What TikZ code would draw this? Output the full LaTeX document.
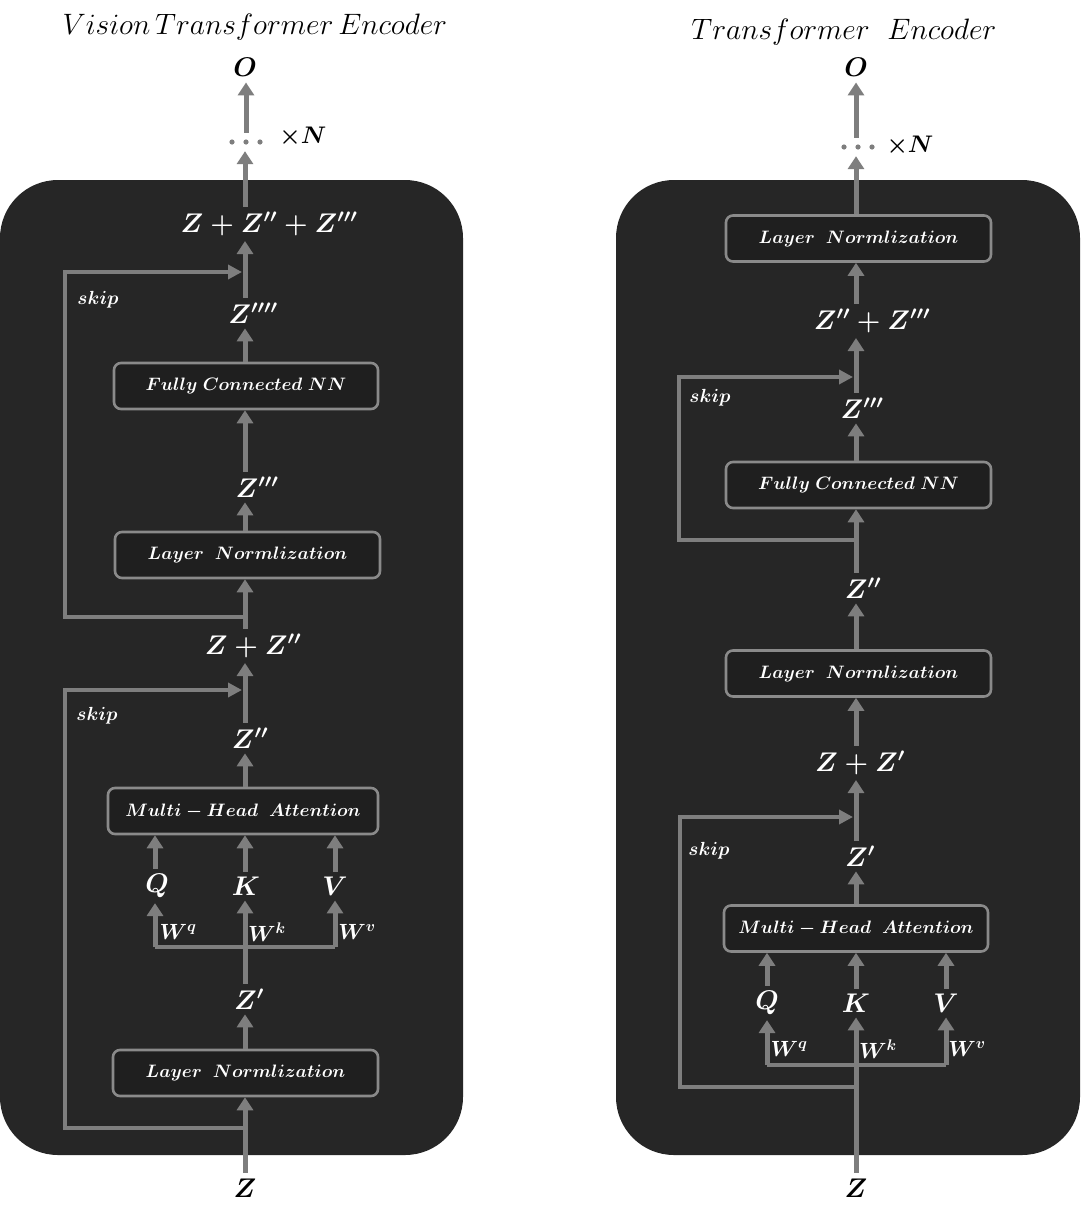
\documentclass[tikz,border=0pt]{standalone}
\usepackage{fix-cm}
\usetikzlibrary{arrows.meta}
\definecolor{panelc}{HTML}{262626}
\definecolor{arrc}{HTML}{7E7E7E}
\definecolor{boxline}{HTML}{8A8A8A}
\definecolor{boxfill}{HTML}{1F1F1F}
\tikzset{
  panel/.style={fill=panelc, rounded corners=58pt},
  blk/.style={draw=boxline, line width=2.6pt, rounded corners=7pt, fill=boxfill, text=white, inner sep=0pt,
     minimum height=46pt, font=\fontsize{18}{20}\selectfont\boldmath},
  arr/.style={draw=arrc, line width=5pt, -{Triangle[width=16pt,length=13pt]}},
  skipln/.style={draw=arrc, line width=4.5pt, -{Triangle[width=14pt,length=14pt]}},
  barln/.style={draw=arrc, line width=4.5pt},
  wlbl/.style={text=white, inner xsep=0pt, inner ysep=5pt, font=\fontsize{27}{29}\selectfont\boldmath},
  qlbl/.style={text=white, inner xsep=0pt, inner ysep=5pt, font=\fontsize{27}{29}\selectfont\boldmath},
  wsm/.style={text=white, inner sep=0pt, font=\fontsize{22}{24}\selectfont\boldmath},
  sklbl/.style={text=white, inner sep=0pt, font=\fontsize{19}{21}\selectfont\boldmath},
  klbl/.style={text=black, inner xsep=0pt, inner ysep=6pt, font=\fontsize{27}{29}\selectfont\boldmath},
  ttl/.style={text=black, inner sep=0pt, font=\fontsize{29.5}{31}\selectfont},
  nlbl/.style={text=black, inner sep=0pt, font=\fontsize{24}{26}\selectfont\boldmath},
  dotsn/.style={minimum width=40pt, minimum height=18pt, inner sep=0pt}
}
\begin{document}
\begin{tikzpicture}[x=1pt,y=-1pt]
\useasboundingbox[fill=white] (0,0) rectangle (1080,1208);
% panels
\fill[panel] (0,180) rectangle (463,1155);
\fill[panel] (616,180) rectangle (1080,1155);

% ================= LEFT: Vision Transformer Encoder =================
\coordinate (colL) at (245,0);
\coordinate (colQL) at (155,0);
\coordinate (colVL) at (335,0);
\node[ttl] (titleL) at (255,27) {$Vision\,Transformer\,Encoder$};
\node[klbl] (OL) at (245,67) {$O$};
\node[dotsn] (dotsL) at (246,142) {};
\fill[arrc] (dotsL.center) circle (2.6) ([xshift=-14pt]dotsL.center) circle (2.6) ([xshift=14pt]dotsL.center) circle (2.6);
\node[nlbl] (xNL) at (303,137) {$\times N$};
\node[wlbl] (sumL) at (269,224) {$Z+Z''+Z'''$};
\node[sklbl] (skipL1) at (98,300) {$skip$};
\node[wlbl] (zppppL) at (253,313) {$Z''''$};
\node[blk, minimum width=264pt] (fcL) at (246,386) {$Fully\ Connected\ NN$};
\node[wlbl] (zpppL) at (257,487) {$Z'''$};
\node[blk, minimum width=265pt] (lnL2) at (247.5,555) {$Layer\ \ Normlization$};
\node[wlbl] (sum2L) at (253,646) {$Z+Z''$};
\node[sklbl] (skipL2) at (97,716) {$skip$};
\node[wlbl] (zppL) at (250,738) {$Z''$};
\node[blk, minimum width=270pt] (mhaL) at (243,811) {$Multi-Head\ \ Attention$};
\node[qlbl] (qL) at (157,886) {$Q$};
\node[qlbl] (kL) at (246,886) {$K$};
\node[qlbl] (vL) at (335,886) {$V$};
\node[wsm] (wqL) at (178,932) {$W^q$};
\node[wsm] (wkL) at (267,932) {$W^k$};
\node[wsm] (wvL) at (357,932) {$W^v$};
\node[wlbl] (zpL) at (249,999) {$Z'$};
\node[blk, minimum width=265pt] (lnL1) at (245.5,1073) {$Layer\ \ Normlization$};
\node[klbl] (ZL) at (245,1188) {$Z$};

% left connectors
\draw[arr] (dotsL.north) -- (dotsL.north |- OL.south);
\draw[arr] (colL |- sumL.north) -- (colL |- dotsL.south);
\draw[arr] (colL |- zppppL.north) -- (colL |- sumL.south);
\draw[arr] (colL |- fcL.north) -- (colL |- zppppL.south);
\draw[arr] (colL |- zpppL.north) -- (colL |- fcL.south);
\draw[arr] (colL |- lnL2.north) -- (colL |- zpppL.south);
\draw[arr] (colL |- sum2L.north) -- (colL |- lnL2.south);
\draw[arr] (colL |- zppL.north) -- (colL |- sum2L.south);
\draw[arr] (colL |- mhaL.north) -- (colL |- zppL.south);
\draw[arr] (colQL |- qL.north) -- (colQL |- mhaL.south);
\draw[arr] (colL |- kL.north) -- (colL |- mhaL.south);
\draw[arr] (colVL |- vL.north) -- (colVL |- mhaL.south);
\coordinate (bqL) at (155,947);
\coordinate (bvL) at (335,947);
\draw[barln] (bqL) -- (bvL);
\draw[arr] (bqL) -- (bqL |- qL.south);
\draw[arr] (bvL) -- (bvL |- vL.south);
\draw[arr] (colL |- zpL.north) -- (colL |- kL.south);
\draw[arr] (colL |- lnL1.north) -- (colL |- zpL.south);
\draw[arr] (colL |- ZL.north) -- (colL |- lnL1.south);
% skips
\coordinate (j1L) at (245,617);
\coordinate (s1L) at (65,450);
\coordinate (m1L) at (242,272);
\draw[skipln] (j1L) -| (s1L) |- (m1L);
\coordinate (j2L) at (245,1128);
\coordinate (s2L) at (65,900);
\coordinate (m2L) at (242,690);
\draw[skipln] (j2L) -| (s2L) |- (m2L);

% ================= RIGHT: Transformer Encoder =================
\coordinate (colR) at (856,0);
\node[ttl] (titleR) at (844,32) {$Transformer\ \ Encoder$};
\node[klbl] (OR) at (856,67) {$O$};
\node[dotsn] (dotsR) at (858,147) {};
\fill[arrc] (dotsR.center) circle (2.6) ([xshift=-14pt]dotsR.center) circle (2.6) ([xshift=14pt]dotsR.center) circle (2.6);
\node[nlbl] (xNR) at (910,146) {$\times N$};
\node[blk, minimum width=265pt] (lnR3) at (858.5,238.5) {$Layer\ \ Normlization$};
\node[wlbl] (sum3R) at (872,321) {$Z''+Z'''$};
\node[sklbl] (skipR1) at (710,398) {$skip$};
\node[wlbl] (zpppR) at (862,408) {$Z'''$};
\node[blk, minimum width=265pt] (fcR) at (858.5,485) {$Fully\ Connected\ NN$};
\node[wlbl] (zppR) at (863,588) {$Z''$};
\node[blk, minimum width=265pt] (lnR2) at (858.5,673.5) {$Layer\ \ Normlization$};
\node[wlbl] (sumR) at (860,763) {$Z+Z'$};
\node[sklbl] (skipR2) at (709,851) {$skip$};
\node[wlbl] (zpR) at (860,856) {$Z'$};
\node[blk, minimum width=264pt] (mhaR) at (856,928.5) {$Multi-Head\ \ Attention$};
\node[qlbl] (qR) at (767,1003) {$Q$};
\node[qlbl] (kR) at (856,1003) {$K$};
\node[qlbl] (vR) at (946,1003) {$V$};
\node[wsm] (wqR) at (789,1049) {$W^q$};
\node[wsm] (wkR) at (878,1049) {$W^k$};
\node[wsm] (wvR) at (967,1049) {$W^v$};
\node[klbl] (ZR) at (856,1188) {$Z$};

% right connectors
\draw[arr] (dotsR.north -| colR) -- (colR |- OR.south);
\draw[arr] (colR |- lnR3.north) -- (colR |- dotsR.south);
\draw[arr] (colR |- sum3R.north) -- (colR |- lnR3.south);
\draw[arr] (colR |- zpppR.north) -- (colR |- sum3R.south);
\draw[arr] (colR |- fcR.north) -- (colR |- zpppR.south);
\draw[arr] (colR |- zppR.north) -- (colR |- fcR.south);
\draw[arr] (colR |- lnR2.north) -- (colR |- zppR.south);
\draw[arr] (colR |- sumR.north) -- (colR |- lnR2.south);
\draw[arr] (colR |- zpR.north) -- (colR |- sumR.south);
\draw[arr] (colR |- mhaR.north) -- (colR |- zpR.south);
\draw[arr] (qR.north) -- (qR.north |- mhaR.south);
\draw[arr] (kR.north) -- (kR.north |- mhaR.south);
\draw[arr] (vR.north) -- (vR.north |- mhaR.south);
\coordinate (bqR) at (767,1065);
\coordinate (bvR) at (946,1065);
\draw[barln] (bqR) -- (bvR);
\draw[arr] (bqR) -- (bqR |- qR.south);
\draw[arr] (bvR) -- (bvR |- vR.south);
\draw[arr] (colR |- ZR.north) -- (colR |- kR.south);
% skips
\coordinate (j1R) at (856,540);
\coordinate (s1R) at (679,450);
\coordinate (m1R) at (853,377);
\draw[skipln] (j1R) -| (s1R) |- (m1R);
\coordinate (j2R) at (856,1087);
\coordinate (s2R) at (680,950);
\coordinate (m2R) at (853,817);
\draw[skipln] (j2R) -| (s2R) |- (m2R);
\end{tikzpicture}
\end{document}
